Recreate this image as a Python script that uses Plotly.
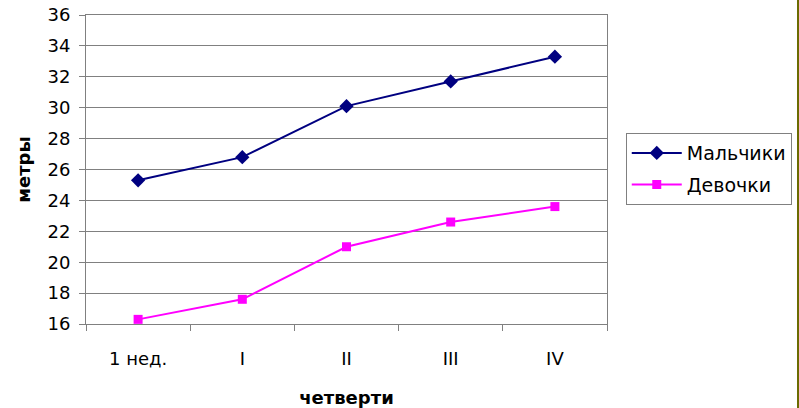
import plotly.graph_objects as go

categories = ["1 нед.", "I", "II", "III", "IV"]
boys = [25.3, 26.8, 30.1, 31.7, 33.3]
girls = [16.3, 17.6, 21.0, 22.6, 23.6]
y_ticks = list(range(16, 37, 2))

FONT = "DejaVu Sans"

fig = go.Figure()
fig.add_trace(go.Scatter(
    x=categories, y=boys, name="Мальчики", mode="lines+markers",
    line=dict(color="#000080", width=2),
    marker=dict(symbol="diamond", size=11, color="#000080"),
    legendgroup="a",
))
fig.add_trace(go.Scatter(
    x=categories, y=girls, name="Девочки", mode="lines+markers",
    line=dict(color="#FF00FF", width=2),
    marker=dict(symbol="square", size=9, color="#FF00FF"),
    legendgroup="b",
))

fig.update_layout(
    width=799, height=408,
    margin=dict(l=86, r=192, t=15, b=84, autoexpand=False),
    paper_bgcolor="white", plot_bgcolor="white",
    font=dict(family=FONT, size=18, color="black"),
    showlegend=True,
    legend=dict(
        x=1.036, y=0.618, xanchor="left", yanchor="top",
        bordercolor="#808080", borderwidth=1,
        font=dict(family=FONT, size=19, color="black"),
        tracegroupgap=4, traceorder="grouped", itemwidth=50,
    ),
    xaxis=dict(
        type="category", range=[-0.5, 4.5], automargin=False,
        showgrid=False, showline=True, linecolor="#808080", linewidth=1,
        mirror=True,
        ticks="outside", tickson="boundaries", ticklen=6, tickcolor="#808080",
        tickfont=dict(family=FONT, size=18), ticklabelstandoff=18,
        title=dict(text="<b>четверти</b>", font=dict(family=FONT, size=18), standoff=28),
    ),
    yaxis=dict(
        range=[16, 36], tickvals=y_ticks, automargin=False,
        showgrid=True, gridcolor="#808080", gridwidth=1,
        showline=True, linecolor="#808080", linewidth=1, mirror=True,
        ticks="outside", ticklen=6, tickcolor="#808080",
        tickfont=dict(family=FONT, size=18), ticklabelstandoff=5,
        title=dict(text="<b>метры</b>", font=dict(family=FONT, size=18), standoff=12),
        zeroline=False,
    ),
    shapes=[dict(
        type="line", xref="paper", yref="paper",
        x0=(798 - 86) / 521, x1=(798 - 86) / 521, y0=-84 / 309, y1=(309 + 15) / 309,
        line=dict(color="#6B6B00", width=2),
    )],
)

fig.write_html("out.html", post_script="document.body.style.margin='0';",
               config={"displayModeBar": False})
